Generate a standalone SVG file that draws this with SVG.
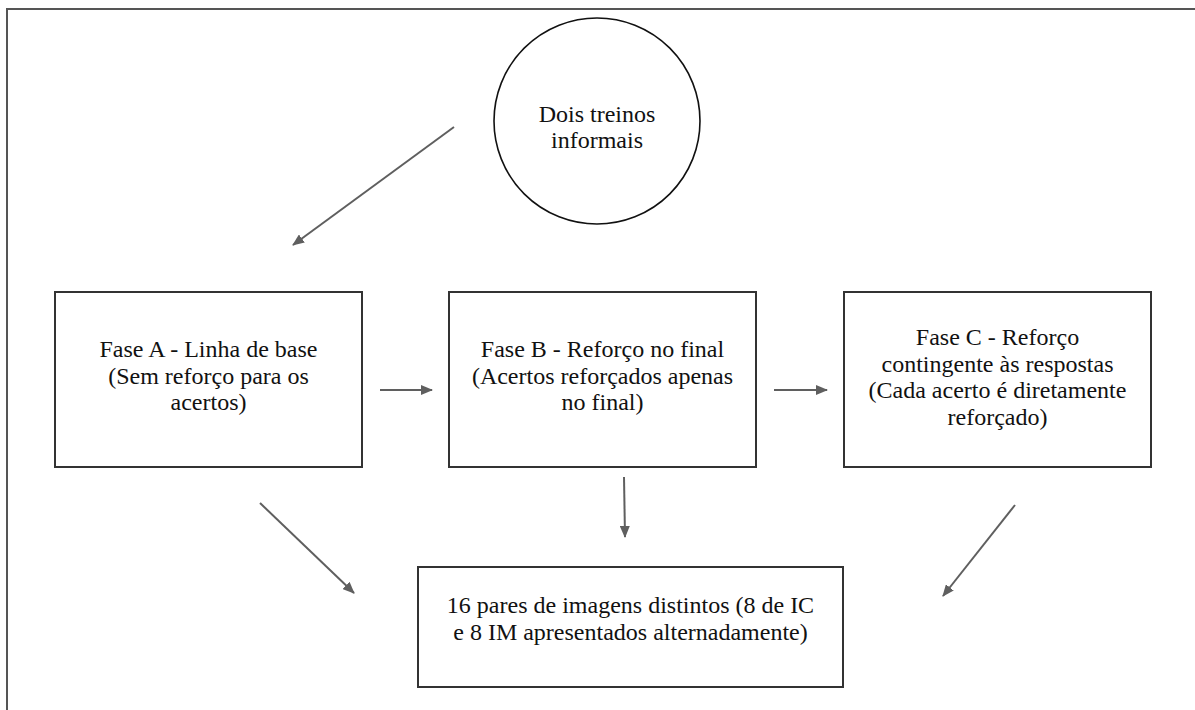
<svg xmlns="http://www.w3.org/2000/svg" width="1195" height="710" viewBox="0 0 1195 710">
<defs>
<style>
.frame{fill:none;stroke:#555;stroke-width:2}
.box{fill:#fff;stroke:#333;stroke-width:2}
.circ{fill:#fff;stroke:#111;stroke-width:1.6}
.lbl{font-family:"Liberation Serif","Times New Roman",serif;font-size:24px;fill:#111;text-anchor:middle}
.conn{stroke:#5f5f5f;stroke-width:2;fill:none;marker-end:url(#ah)}
</style>
<marker id="ah" viewBox="0 0 12 10" markerWidth="12" markerHeight="10" refX="11" refY="5" orient="auto" markerUnits="userSpaceOnUse">
<path d="M0,0 L12,5 L0,10 z" fill="#5f5f5f"/>
</marker>
</defs>
<rect width="1195" height="710" fill="#fff"/>
<path class="frame" d="M7,710 V9 H1195"/>
<g id="connectors">
<line class="conn" x1="454" y1="127" x2="293" y2="245"/>
<line class="conn" x1="380" y1="390" x2="432" y2="390"/>
<line class="conn" x1="774" y1="390" x2="827" y2="390"/>
<line class="conn" x1="624" y1="477" x2="625" y2="537"/>
<line class="conn" x1="260" y1="503" x2="354" y2="593"/>
<line class="conn" x1="1015" y1="505" x2="943" y2="596"/>
</g>
<g id="node-treinos">
<circle class="circ" cx="597" cy="121" r="103"/>
<text class="lbl" x="597" y="122">Dois treinos</text>
<text class="lbl" x="597" y="148">informais</text>
</g>
<g id="node-faseA">
<rect class="box" x="55" y="292" width="307" height="175"/>
<text class="lbl" x="208.5" y="357">Fase A - Linha de base</text>
<text class="lbl" x="208.5" y="383.5">(Sem reforço para os</text>
<text class="lbl" x="208.5" y="410">acertos)</text>
</g>
<g id="node-faseB">
<rect class="box" x="449" y="292" width="307" height="175"/>
<text class="lbl" x="602.5" y="357">Fase B - Reforço no final</text>
<text class="lbl" x="602.5" y="383.5">(Acertos reforçados apenas</text>
<text class="lbl" x="602.5" y="410">no final)</text>
</g>
<g id="node-faseC">
<rect class="box" x="844" y="292" width="307" height="175"/>
<text class="lbl" x="997.5" y="345">Fase C - Reforço</text>
<text class="lbl" x="997.5" y="371.5">contingente às respostas</text>
<text class="lbl" x="997.5" y="398">(Cada acerto é diretamente</text>
<text class="lbl" x="997.5" y="424.5">reforçado)</text>
</g>
<g id="node-pares">
<rect class="box" x="418" y="567" width="425" height="120"/>
<text class="lbl" x="630.5" y="613">16 pares de imagens distintos (8 de IC</text>
<text class="lbl" x="630.5" y="639.5">e 8 IM apresentados alternadamente)</text>
</g>
</svg>
